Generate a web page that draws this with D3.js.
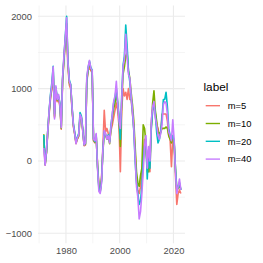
<!DOCTYPE html>
<html>
<head>
<meta charset="utf-8">
<script src="https://cdn.jsdelivr.net/npm/d3@7"></script>
<style>
  html, body { margin: 0; padding: 0; background: #fff; }
  svg { display: block; font-family: "Liberation Sans", Arial, sans-serif; }
</style>
</head>
<body>
<div id="chart"></div>
<script>
const labels = [ 'm=5', 'm=10', 'm=20', 'm=40' ];
const colors = [ '#F8766D', '#7CAE00', '#00BFC4', '#C77CFF' ];

const years = [
  1971.75, 1972.25, 1972.75, 1973.25, 1973.75, 1974.25, 1974.75, 1975.25, 1975.75, 1976.25,
  1976.75, 1977.25, 1977.75, 1978.25, 1978.75, 1979.25, 1979.75, 1980.25, 1980.75, 1981.25,
  1981.75, 1982.25, 1982.75, 1983.25, 1983.75, 1984.25, 1984.75, 1985.25, 1985.75, 1986.25,
  1986.75, 1987.25, 1987.75, 1988.25, 1988.75, 1989.25, 1989.75, 1990.25, 1990.75, 1991.25,
  1991.75, 1992.25, 1992.75, 1993.25, 1993.75, 1994.25, 1994.75, 1995.25, 1995.75, 1996.25,
  1996.75, 1997.25, 1997.75, 1998.25, 1998.75, 1999.25, 1999.75, 2000.25, 2000.75, 2001.25,
  2001.75, 2002.25, 2002.75, 2003.25, 2003.75, 2004.25, 2004.75, 2005.25, 2005.75, 2006.25,
  2006.75, 2007.25, 2007.75, 2008.25, 2008.75, 2009.25, 2009.75, 2010.25, 2010.75, 2011.25,
  2011.75, 2012.25, 2012.75, 2013.25, 2013.75, 2014.25, 2014.75, 2015.25, 2015.75, 2016.25,
  2016.75, 2017.25, 2017.75, 2018.25, 2018.75, 2019.25, 2019.75, 2020.25, 2020.75, 2021.25,
  2021.75, 2022.25, 2022.75
];

const m5 = [
  300, -60, 110, 400, 650, 860, 1000, 1200, 600, 980,
  820, 860, 750, 440, 1100, 1380, 1650, 1750, 1300, 1050,
  1000, 720, 480, 370, 240, 300, 340, 600, 590, 420,
  210, 220, 1080, 1250, 1300, 1250, 1220, 280, 250, 330,
  -50, -330, -400, -230, 200, 700, 400, 450, 380, 280,
  420, 500, 600, 700, 800, 700, 480, -150, 700, 1000,
  900, 950, 850, 1000, 850, 850, 650, 450, 100, -250,
  -400, -450, -350, -150, 100, 300, 200, -150, 100, -150,
  450, 700, 750, 650, 500, 450, 350, 400, 650, 650,
  650, 650, 550, 350, 300, -80, 300, 250, -200, -600,
  -450, -400, -450
];

const m10 = [
  370, -50, 120, 420, 680, 880, 1020, 1250, 620, 1000,
  840, 880, 780, 450, 1120, 1400, 1680, 1900, 1350, 1080,
  1050, 740, 500, 380, 250, 310, 350, 620, 600, 430,
  220, 230, 1100, 1270, 1360, 1270, 1240, 290, 260, 350,
  -60, -350, -420, -250, 130, 380, 350, 300, 330, 240,
  440, 600, 720, 800, 950, 780, 580, 200, 800, 1200,
  1300, 1450, 1500, 1250, 1150, 950, 780, 550, 200, -150,
  -300, -350, -200, -100, 500, 450, 250, -100, -150, 0,
  500, 800, 970, 700, 550, 400, 380, 400, 450, 450,
  450, 470, 450, 350, 300, 250, 350, 250, -100, -400,
  -380, -320, -400
];

const m20 = [
  360, -40, 130, 430, 700, 920, 1080, 1310, 650, 1020,
  870, 900, 800, 480, 1150, 1430, 1720, 2000, 1380, 1120,
  1060, 760, 520, 400, 260, 330, 380, 670, 620, 440,
  230, 240, 1120, 1290, 1380, 1290, 1260, 310, 270, 360,
  -80, -380, -430, -280, 160, 400, 370, 320, 360, 270,
  500, 640, 800, 880, 1000, 820, 600, 300, 900, 1320,
  1450, 1880, 1600, 1250, 1100, 880, 680, 420, 0, -300,
  -450, -600, -550, -350, 0, 200, 300, -250, 150, -100,
  450, 700, 800, 650, 400, 250, 300, 400, 600, 850,
  850, 950, 750, 450, 350, 300, 350, 280, -100, -400,
  -350, -300, -400
];

const m40 = [
  180, -60, 150, 420, 700, 900, 1050, 1300, 580, 1040,
  850, 920, 780, 460, 1150, 1450, 1700, 1980, 1350, 1100,
  1050, 750, 500, 380, 240, 320, 360, 640, 600, 420,
  220, 250, 1150, 1300, 1390, 1280, 1250, 300, 280, 380,
  -100, -420, -450, -300, 150, 420, 380, 300, 350, 250,
  470, 650, 820, 900, 1100, 800, 550, 450, 850, 1300,
  1400, 1750, 1450, 1200, 1150, 900, 700, 450, 50, -350,
  -500, -800, -700, -450, -150, 200, 350, -100, 200, 0,
  550, 750, 820, 600, 500, 350, 300, 380, 500, 780,
  820, 800, 650, 400, 350, 280, 570, 300, -150, -450,
  -350, -250, -400
];

const xTicks = [ 1980, 2000, 2020 ];
const xMinor = [ 1970, 1990, 2010 ];
const yTicks = [ -1000, 0, 1000, 2000 ];
const yMinor = [ -500, 500, 1500 ];

const width = 263;
const height = 263;
const panel = { left: 38, right: 185, top: 5.5, bottom: 243.3 };

const series = [ m5, m10, m20, m40 ].map((values, i) => {
  return {
    label: labels[i],
    color: colors[i],
    points: values.map((v, j) => [ years[j], v ]),
  };
});

const svg = d3.select('#chart')
  .append('svg')
  .attr('width', width)
  .attr('height', height);

const x = d3.scaleLinear()
  .domain([ 1969.6, 2024.3 ])
  .range([ panel.left, panel.right ]);

const y = d3.scaleLinear()
  .domain([ -1138, 2149 ])
  .range([ panel.bottom, panel.top ]);

// Grid (theme_minimal)
const grid = svg.append('g').attr('stroke', '#EBEBEB').attr('fill', 'none');

grid.selectAll('line.xminor')
  .data(xMinor)
  .enter().append('line')
    .attr('x1', d => x(d)).attr('x2', d => x(d))
    .attr('y1', panel.top).attr('y2', panel.bottom)
    .attr('stroke-width', 0.55);

grid.selectAll('line.yminor')
  .data(yMinor)
  .enter().append('line')
    .attr('x1', panel.left).attr('x2', panel.right)
    .attr('y1', d => y(d)).attr('y2', d => y(d))
    .attr('stroke-width', 0.55);

grid.selectAll('line.xmajor')
  .data(xTicks)
  .enter().append('line')
    .attr('x1', d => x(d)).attr('x2', d => x(d))
    .attr('y1', panel.top).attr('y2', panel.bottom)
    .attr('stroke-width', 1.07);

grid.selectAll('line.ymajor')
  .data(yTicks)
  .enter().append('line')
    .attr('x1', panel.left).attr('x2', panel.right)
    .attr('y1', d => y(d)).attr('y2', d => y(d))
    .attr('stroke-width', 1.07);

// Lines
const line = d3.line()
  .x(d => x(d[0]))
  .y(d => y(d[1]));

svg.append('g')
  .attr('fill', 'none')
  .attr('stroke-width', 1.6)
  .attr('stroke-linejoin', 'round')
  .selectAll('path')
  .data(series)
  .enter().append('path')
    .attr('stroke', d => d.color)
    .attr('d', d => line(d.points));

// Axes, ticks only as text
const yAxis = d3.axisLeft(y)
  .tickValues(yTicks)
  .tickSize(0)
  .tickPadding(0)
  .tickFormat(d => d < 0 ? '\u2212' + Math.abs(d) : String(d));

svg.append('g')
  .attr('transform', `translate(${panel.left - 6}, 0)`)
  .call(yAxis)
  .call(g => g.select('.domain').remove())
  .selectAll('text')
    .attr('fill', '#4D4D4D')
    .attr('font-size', 9.4)
    .attr('font-family', '"Liberation Sans", Arial, sans-serif');

const xAxis = d3.axisBottom(x)
  .tickValues(xTicks)
  .tickSize(0)
  .tickPadding(0)
  .tickFormat(d3.format('d'));

svg.append('g')
  .attr('transform', `translate(0, ${panel.bottom + 4})`)
  .call(xAxis)
  .call(g => g.select('.domain').remove())
  .selectAll('text')
    .attr('fill', '#4D4D4D')
    .attr('font-size', 9.4)
    .attr('font-family', '"Liberation Sans", Arial, sans-serif');

// Legend
const legend = svg.append('g')
  .attr('transform', 'translate(203.5, 0)');

legend.append('text')
  .attr('x', 0)
  .attr('y', 90.5)
  .attr('font-size', 11.8)
  .attr('fill', '#000')
  .text('label');

const legendRow = legend.selectAll('g.row')
  .data(series)
  .enter().append('g')
    .attr('transform', (d, i) => `translate(0, ${105.7 + i * 17.8})`);

legendRow.append('line')
  .attr('x1', 2.2)
  .attr('x2', 16.5)
  .attr('stroke', d => d.color)
  .attr('stroke-width', 1.4);

legendRow.append('text')
  .attr('x', 24.2)
  .attr('dy', '0.35em')
  .attr('font-size', 9.4)
  .attr('fill', '#000')
  .text(d => d.label);
</script>
</body>
</html>
